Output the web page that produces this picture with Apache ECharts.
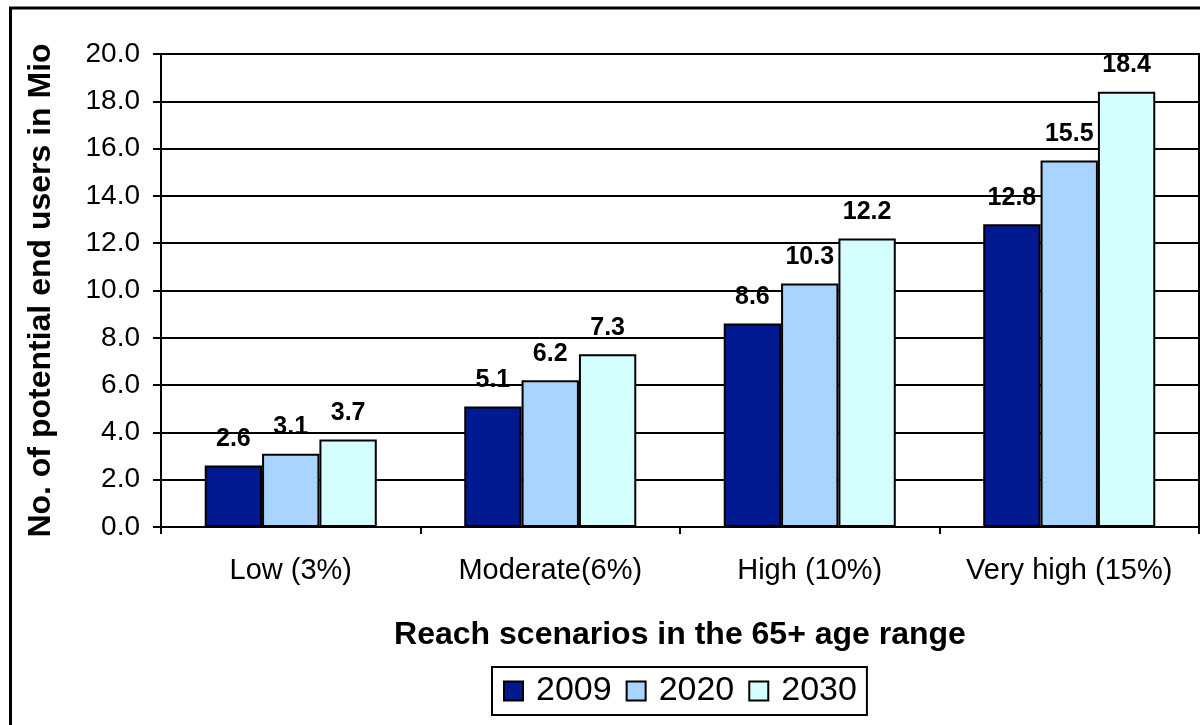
<!DOCTYPE html>
<html>
<head>
<meta charset="utf-8">
<script src="https://cdn.jsdelivr.net/npm/echarts@6/dist/echarts.min.js"></script>
<style>
html,body{margin:0;padding:0;background:#fff;}
#chart{width:1200px;height:725px;}
</style>
</head>
<body>
<div id="chart"></div>
<script>
var categories = ['Low (3%)', 'Moderate(6%)', 'High (10%)', 'Very high (15%)'];
var seriesNames = ['2009', '2020', '2030'];
var values2009 = [2.6, 5.1, 8.6, 12.8];
var values2020 = [3.1, 6.2, 10.3, 15.5];
var values2030 = [3.7, 7.3, 12.2, 18.4];
var yTitle = 'No. of potential end users in Mio';
var xTitle = 'Reach scenarios in the 65+ age range';

var FONT = '"Liberation Sans", Arial, Helvetica, sans-serif';
var colors = ['#001990', '#A8D4FF', '#D4FEFF'];
var allValues = [values2009, values2020, values2030];

var chart = echarts.init(document.getElementById('chart'), null, {renderer: 'canvas'});

var series = seriesNames.map(function (name, i) {
  return {
    name: name,
    type: 'bar',
    data: allValues[i],
    barGap: '0%',
    barCategoryGap: '33.7%',
    itemStyle: {color: colors[i], borderColor: '#000', borderWidth: 2},
    label: {
      show: true,
      position: 'top',
      distance: 14,
      color: '#000',
      fontFamily: FONT,
      fontWeight: 'bold',
      fontSize: 25,
      formatter: function (p) { return p.value.toFixed(1); }
    },
    emphasis: {disabled: true}
  };
});

chart.setOption({
  backgroundColor: '#fff',
  animation: false,
  graphic: [{
    type: 'rect',
    silent: true,
    z: 100,
    shape: {x: 10.5, y: 8, width: 1300, height: 800},
    style: {fill: 'none', stroke: '#000', lineWidth: 3}
  }],
  grid: {
    left: 161, right: 1, top: 54, bottom: 198,
    show: true, borderColor: '#000', borderWidth: 2, backgroundColor: 'transparent'
  },
  legend: {
    data: seriesNames,
    left: 492, top: 667,
    orient: 'horizontal',
    itemWidth: 19, itemHeight: 19, itemGap: 14,
    icon: 'rect',
    borderColor: '#000', borderWidth: 2,
    padding: [7, 10, 7, 11],
    textStyle: {fontFamily: FONT, fontSize: 34, color: '#000', padding: [0, 0, 0, 8]}
  },
  xAxis: {
    type: 'category',
    data: categories,
    name: xTitle,
    nameLocation: 'middle',
    nameGap: 92,
    nameTextStyle: {fontFamily: FONT, fontWeight: 'bold', fontSize: 32, color: '#000'},
    axisLine: {show: true, lineStyle: {color: '#000', width: 2}},
    axisTick: {show: true, interval: 0, length: 7, lineStyle: {color: '#000', width: 2}},
    axisLabel: {interval: 0, fontFamily: FONT, fontSize: 29, color: '#000', margin: 29},
    splitLine: {show: false}
  },
  yAxis: {
    type: 'value',
    min: 0, max: 20, interval: 2,
    name: yTitle,
    nameLocation: 'middle',
    nameGap: 104,
    nameRotate: 90,
    nameTextStyle: {fontFamily: FONT, fontWeight: 'bold', fontSize: 32, color: '#000'},
    axisLine: {show: true, lineStyle: {color: '#000', width: 2}},
    axisTick: {show: true, length: 8, lineStyle: {color: '#000', width: 2}},
    axisLabel: {
      fontFamily: FONT, fontSize: 28, color: '#000', margin: 21,
      formatter: function (v) { return v.toFixed(1); }
    },
    splitLine: {show: true, lineStyle: {color: '#000', width: 2}}
  },
  series: series
});
</script>
</body>
</html>
